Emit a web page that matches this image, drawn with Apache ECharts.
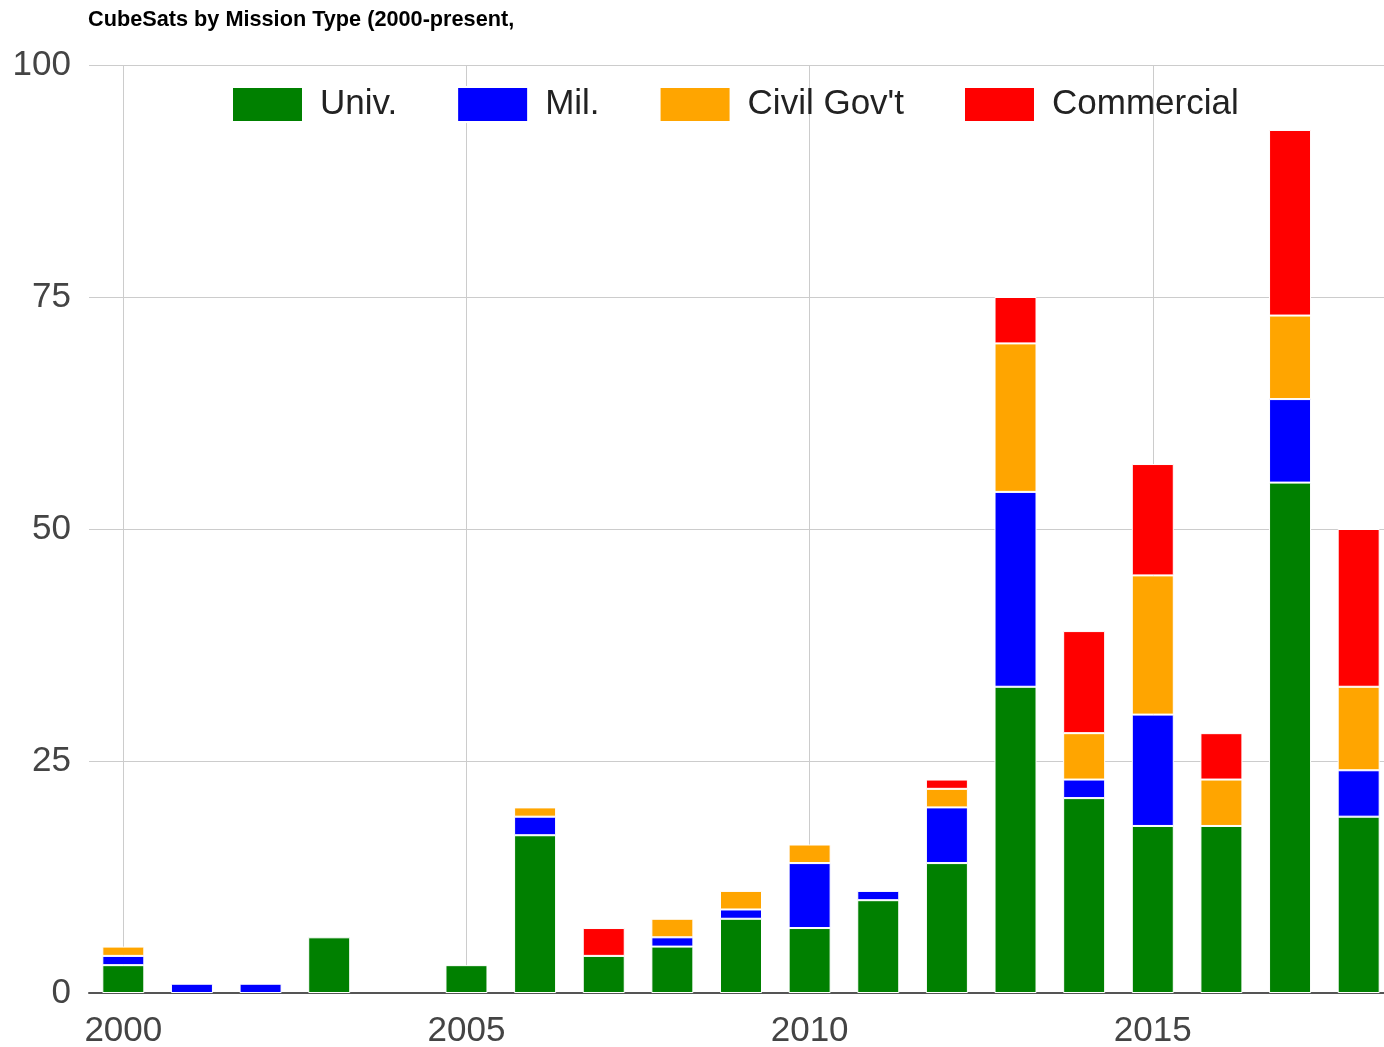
<!DOCTYPE html>
<html>
<head>
<meta charset="utf-8">
<style>
  html, body { margin: 0; padding: 0; background: #fff; }
  #chart { width: 1384px; height: 1047px; }
</style>
<script src="https://cdn.jsdelivr.net/npm/echarts@6/dist/echarts.min.js"></script>
</head>
<body>
<div id="chart"></div>
<script>
// Launch years on the x axis
const years = ['2000','2001','2002','2003','2004','2005','2006','2007','2008','2009',
               '2010','2011','2012','2013','2014','2015','2016','2017','2018'];

// CubeSats launched per year, by mission type
const univ       = [3, 0, 0, 6, 0, 3, 17, 4, 5, 8, 7, 10, 14, 33, 21, 18, 18, 55, 19];
const mil        = [1, 1, 1, 0, 0, 0, 2, 0, 1, 1, 7, 1, 6, 21, 2, 12, 0, 9, 5];
const civilGov   = [1, 0, 0, 0, 0, 0, 1, 0, 2, 2, 2, 0, 2, 16, 5, 15, 5, 9, 9];
const commercial = [0, 0, 0, 0, 0, 0, 0, 3, 0, 0, 0, 0, 1, 5, 11, 12, 5, 20, 17];

const seriesNames = ['Univ.', 'Mil.', "Civil Gov't", 'Commercial'];
const seriesColors = ['#008000', '#0000ff', '#ffa500', '#ff0000'];
const seriesData = [univ, mil, civilGov, commercial];

const yTicks = { min: 0, max: 100, interval: 25 };

const font = '"Liberation Sans", Arial, sans-serif';
const everyFifth = (i) => i % 5 === 0;
// empty segments are left out so their white outline does not cover the axis
const skipZero = (arr) => arr.map(v => (v === 0 ? null : v));

const chart = echarts.init(document.getElementById('chart'));
chart.setOption({
  animation: false,
  title: {
    text: 'CubeSats by Mission Type (2000-present,',
    left: 83,
    top: 4,
    textStyle: { fontFamily: font, fontWeight: 'bold', fontSize: 21.7, color: '#000' }
  },
  legend: {
    left: 226,
    top: 81,
    itemWidth: 71,
    itemHeight: 35,
    itemGap: 59,
    icon: 'rect',
    textStyle: { fontFamily: font, fontSize: 35, color: '#222', padding: [0, 0, 0, 12] },
    data: seriesNames
  },
  grid: {
    left: 89,
    right: -9,
    top: 65,
    bottom: 54,
    containLabel: false,
    outerBoundsMode: 'none'
  },
  xAxis: {
    type: 'category',
    data: years,
    boundaryGap: true,
    axisLine: { show: true, lineStyle: { color: '#555', width: 2 } },
    axisTick: { show: false },
    axisLabel: { interval: everyFifth, fontFamily: font, fontSize: 35, color: '#444', margin: 21 },
    splitLine: { show: true, interval: everyFifth, alignWithLabel: true, lineStyle: { color: '#ccc', width: 1 } }
  },
  yAxis: {
    type: 'value',
    min: yTicks.min,
    max: yTicks.max,
    interval: yTicks.interval,
    axisLine: { show: false },
    axisTick: { show: false },
    axisLabel: { fontFamily: font, fontSize: 35, color: '#444', margin: 18, padding: [3, 0, 0, 0] },
    splitLine: { show: true, lineStyle: { color: '#ccc', width: 1 } }
  },
  series: seriesNames.map((name, k) => ({
    name: name,
    type: 'bar',
    stack: 'total',
    barWidth: 42,
    data: skipZero(seriesData[k]),
    itemStyle: { color: seriesColors[k], borderColor: '#fff', borderWidth: 1 }
  }))
});
</script>
</body>
</html>
